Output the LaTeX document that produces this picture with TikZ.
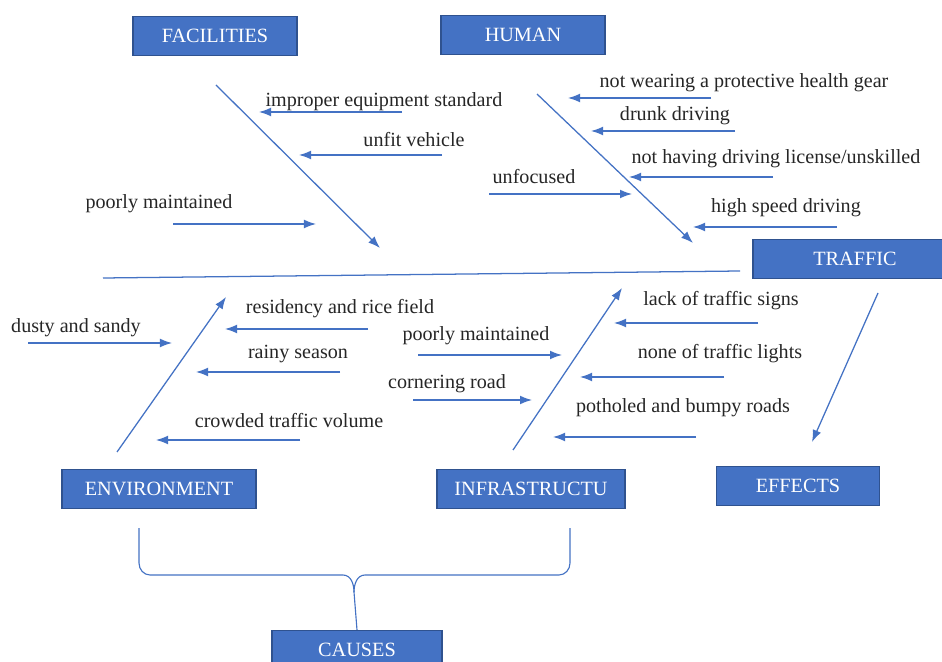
\documentclass[tikz,border=0pt]{standalone}
\usepackage{fontspec}
\setmainfont{Liberation Serif}
\usetikzlibrary{arrows.meta}
\definecolor{boxblue}{HTML}{4472C4}
\definecolor{boxedge}{HTML}{2F528F}
\tikzset{
	catbox/.style = {draw=boxedge, fill=boxblue, text=white, line width=0.8pt,
		minimum height=0.975cm, inner sep=0pt, text height=0.86em, text depth=0pt,
		font=\fontsize{14.4}{16}\selectfont},
	causetext/.style = {text=black!85, inner sep=0pt, text height=0.7em, text depth=0.25em,
		yshift=-1.5pt, font=\fontsize{14.3}{16}\selectfont},
	bone/.style = {draw=boxblue, line width=0.9pt, -{Latex[length=3mm,width=2.2mm]}},
	spine/.style = {draw=boxblue, line width=0.9pt},
	brace/.style = {draw=boxblue, line width=0.8pt}
}

\begin{document}
\begin{tikzpicture}[x=0.025cm, y=-0.025cm]
		\useasboundingbox (0,0) rectangle (942,662);
		\clip (0,0) rectangle (942,662);
		\fill [white] (0,0) rectangle (942,662);

		% category boxes
		\node [catbox, minimum width=4.1cm] (fac) at (215,36) {FACILITIES};
		\node [catbox, minimum width=4.1cm] (hum) at (523,35) {HUMAN};
		\node [catbox, minimum width=5.1cm] (traf) at (855,259) {TRAFFIC};
		\node [catbox, minimum width=4.85cm] (env) at (159,489) {ENVIRONMENT};
		\node [catbox, minimum width=4.7cm] (inf) at (531,489) {INFRASTRUCTU};
		\node [catbox, minimum width=4.075cm] (eff) at (798,486) {EFFECTS};
		\node [catbox, minimum width=4.25cm] (cau) at (357,650) {CAUSES};

		% spine and bones
		\coordinate (tail) at (103,278);
		\coordinate (head) at (740,271);
		\draw [spine] (tail) -- (head);

		\coordinate (facA) at (216,85);  \coordinate (facB) at (380,248);
		\coordinate (humA) at (537,94);  \coordinate (humB) at (693,243);
		\coordinate (envA) at (117,452); \coordinate (envB) at (226,297);
		\coordinate (infA) at (513,450); \coordinate (infB) at (622,288);
		\coordinate (effA) at (878,293); \coordinate (effB) at (812,442);
		\draw [bone] (facA) -- (facB);
		\draw [bone] (humA) -- (humB);
		\draw [bone] (envA) -- (envB);
		\draw [bone] (infA) -- (infB);
		\draw [bone] (effA) -- (effB);

		% cause arrows
		\foreach \n/\xs/\xe/\y in {imp/402/259/112, unfit/442/299/155, poorfac/173/316/224,
				gear/711/568/98, drunk/735/591/131, license/773/629/177, unfoc/489/632/194,
				speed/837/693/227, dusty/28/172/343, resid/368/225/329, rainy/340/196/372,
				crowd/300/156/440, poorinf/418/562/355, corner/413/532/400, lack/758/614/323,
				none/724/580/377, pothole/696/553/437}{
			\coordinate (\n s) at (\xs,\y);
			\coordinate (\n e) at (\xe,\y);
			\draw [bone] (\n s) -- (\n e);
		}

		% cause labels
		\node [causetext] (timp) at (384,101) {improper equipment standard};
		\node [causetext] (tunfit) at (414,141) {unfit vehicle};
		\node [causetext] (tpoorfac) at (159,203) {poorly maintained};
		\node [causetext] (tgear) at (744,82) {not wearing a protective health gear};
		\node [causetext] (tdrunk) at (675,115) {drunk driving};
		\node [causetext] (tlicense) at (776,158) {not having driving license/unskilled};
		\node [causetext] (tunfoc) at (534,178) {unfocused};
		\node [causetext] (tspeed) at (786,207) {high speed driving};
		\node [causetext] (tdusty) at (76,327) {dusty and sandy};
		\node [causetext] (tresid) at (340,308) {residency and rice field};
		\node [causetext] (trainy) at (298,353) {rainy season};
		\node [causetext] (tcrowd) at (289,422) {crowded traffic volume};
		\node [causetext] (tpoorinf) at (476,335) {poorly maintained};
		\node [causetext] (tcorner) at (447,383) {cornering road};
		\node [causetext] (tlack) at (721,300) {lack of traffic signs};
		\node [causetext] (tnone) at (720,353) {none of traffic lights};
		\node [causetext] (tpothole) at (683,407) {potholed and bumpy roads};

		% brace to causes
		\coordinate (brL) at (139,528);
		\coordinate (brR) at (570,528);
		\coordinate (brM) at (354,592);
		\draw [brace] (brL) -- (139,563) to[out=-90,in=180] (150,575) -- (343,575)
			to[out=0,in=90] (brM) -- (cau.north);
		\draw [brace] (brR) -- (570,563) to[out=-90,in=0] (559,575) -- (365,575)
			to[out=180,in=90] (brM);
	\end{tikzpicture}
\end{document}
